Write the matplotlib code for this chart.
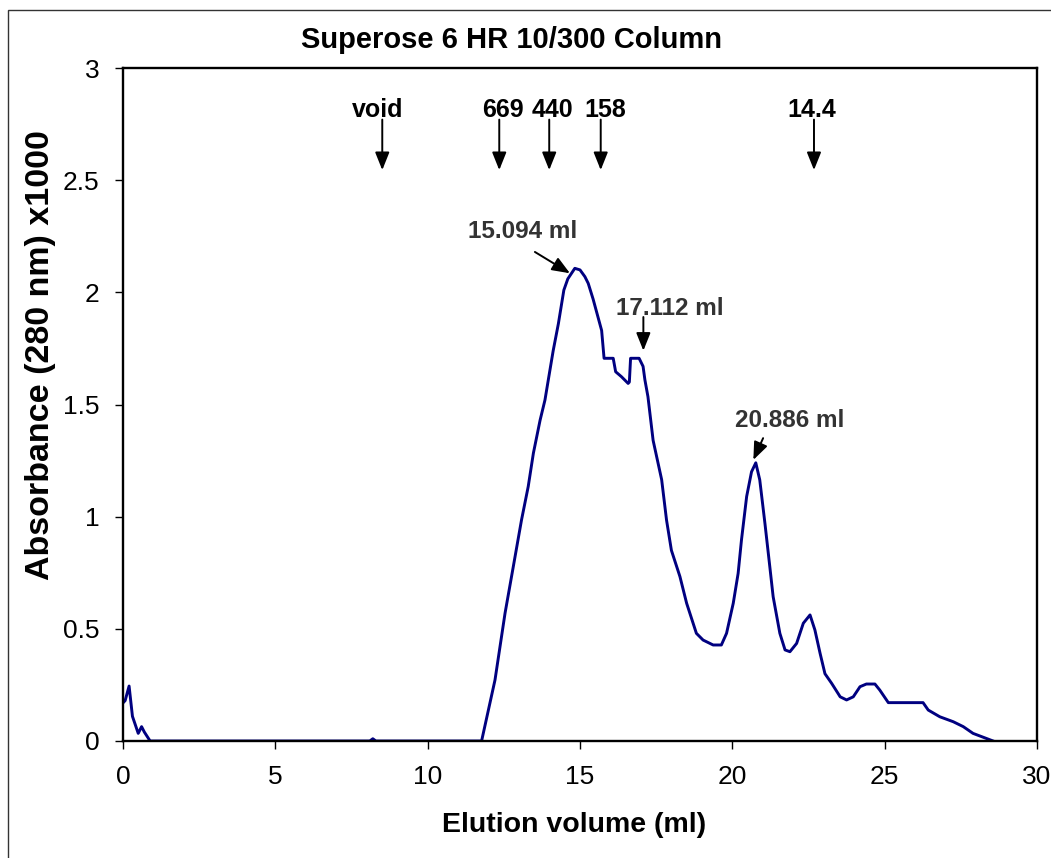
import matplotlib
matplotlib.use("Agg")
import matplotlib.pyplot as plt
from matplotlib.patches import Rectangle

plt.rcParams['font.family'] = ['Liberation Sans', 'DejaVu Sans']

# Chromatogram (elution volume ml, absorbance x1000)
volume = [0.0, 0.07, 0.2, 0.31, 0.5, 0.61, 0.7, 0.89, 8.1, 8.2, 8.3,
          11.77, 12.21, 12.54, 12.81, 13.08, 13.3, 13.47, 13.69, 13.85, 13.96,
          14.12, 14.29, 14.47, 14.6, 14.83, 15.0, 15.16, 15.27, 15.43, 15.71,
          15.79, 16.09, 16.17, 16.36, 16.58, 16.62, 16.66, 16.94, 17.07, 17.13,
          17.23, 17.4, 17.68, 17.84, 18.0, 18.28, 18.5, 18.82, 19.04, 19.37,
          19.64, 19.81, 20.03, 20.19, 20.30, 20.47, 20.63, 20.77, 20.9, 21.07,
          21.23, 21.34, 21.56, 21.73, 21.89, 22.11, 22.33, 22.55, 22.71, 22.88,
          23.04, 23.26, 23.54, 23.75, 23.97, 24.19, 24.40, 24.68, 24.84, 25.12,
          26.26, 26.43, 26.81, 27.25, 27.58, 27.9, 28.56]
absorbance = [0.17, 0.18, 0.245, 0.11, 0.034, 0.064, 0.04, 0.0, 0.0, 0.01, 0.0,
              0.0, 0.272, 0.57, 0.777, 0.985, 1.134, 1.283, 1.43, 1.52, 1.61,
              1.74, 1.86, 2.01, 2.06, 2.107, 2.1, 2.07, 2.04, 1.97, 1.83,
              1.706, 1.706, 1.646, 1.624, 1.594, 1.6, 1.706, 1.706, 1.67, 1.61,
              1.535, 1.34, 1.165, 0.985, 0.85, 0.733, 0.614, 0.48, 0.45, 0.428,
              0.428, 0.48, 0.614, 0.747, 0.896, 1.09, 1.20, 1.24, 1.164, 0.97,
              0.777, 0.643, 0.48, 0.406, 0.398, 0.435, 0.525, 0.562, 0.495, 0.391,
              0.30, 0.257, 0.197, 0.183, 0.197, 0.242, 0.254, 0.254, 0.227, 0.171,
              0.171, 0.138, 0.108, 0.086, 0.064, 0.034, 0.0]

# Calibration markers
marker_labels = ['void', '669', '440', '158', '14.4']
marker_arrow_x = [8.51, 12.35, 13.99, 15.68, 22.68]
marker_text_x = [8.37, 12.48, 14.08, 15.84, 22.61]

# Peak annotations
peak_labels = ['15.094 ml', '17.112 ml', '20.886 ml']
peak_head = [(14.67, 2.085), (17.08, 1.74), (20.69, 1.253)]
peak_tail = [(13.52, 2.18), (17.08, 1.89), (21.01, 1.35)]
peak_text = [(13.12, 2.27), (17.95, 1.93), (21.89, 1.43)]

xticks = [0, 5, 10, 15, 20, 25, 30]
yticks = [0, 0.5, 1, 1.5, 2, 2.5, 3]
ytick_labels = ['0', '0.5', '1', '1.5', '2', '2.5', '3']

fig = plt.figure(figsize=(10.51, 8.58), dpi=100)
ax = fig.add_axes([123/1051, 1-741/858, (1037-123)/1051, (741-68)/858])

ax.plot(volume, absorbance, color='#000080', lw=2.1, zorder=2)

ax.set_xlim(0, 30)
ax.set_ylim(0, 3)
ax.set_xticks(xticks)
ax.set_xticklabels([str(t) for t in xticks])
ax.set_yticks(yticks)
ax.set_yticklabels(ytick_labels)
ax.tick_params(axis='both', direction='out', length=6, width=1.0, labelsize=19,
               color='black')
ax.tick_params(axis='x', pad=11)
ax.tick_params(axis='y', pad=11)
for s in ax.spines.values():
    s.set_linewidth(1.7)
    s.set_color('black')

arrow_kw = dict(arrowstyle='-|>,head_length=0.9,head_width=0.36',
                color='black', lw=1.4, mutation_scale=12,
                shrinkA=0, shrinkB=0)

for lab, xa, xt in zip(marker_labels, marker_arrow_x, marker_text_x):
    ax.annotate('', xy=(xa, 2.545), xytext=(xa, 2.77), arrowprops=arrow_kw)
    ax.text(xt, 2.815, lab, ha='center', va='center', fontsize=18,
            fontweight='bold', color='black')

for lab, hd, tl, tx in zip(peak_labels, peak_head, peak_tail, peak_text):
    ax.annotate('', xy=hd, xytext=tl, arrowprops=arrow_kw)
    ax.text(tx[0], tx[1], lab, ha='center', va='center', fontsize=17.5,
            fontweight='bold', color='#333333')

ax.set_title('Superose 6 HR 10/300 Column', fontsize=21, fontweight='bold',
             x=0.4256, y=1.0416, va='center', pad=0)
ax.set_xlabel('Elution volume (ml)', fontsize=20.5, fontweight='bold')
ax.xaxis.set_label_coords(0.493, -0.125)
ax.xaxis.label.set_va('center')
ax.set_ylabel('Absorbance (280 nm) x1000', fontsize=24.5, fontweight='bold')
ax.yaxis.set_label_coords(-0.0905, 0.573)
ax.yaxis.label.set_va('center')

fig.patches.append(Rectangle((8/1051, -0.1), 1.2, 1.1 - 10/858,
                             transform=fig.transFigure, fill=False,
                             ec='#333333', lw=1.0))

fig.savefig('out.png', dpi=100)
